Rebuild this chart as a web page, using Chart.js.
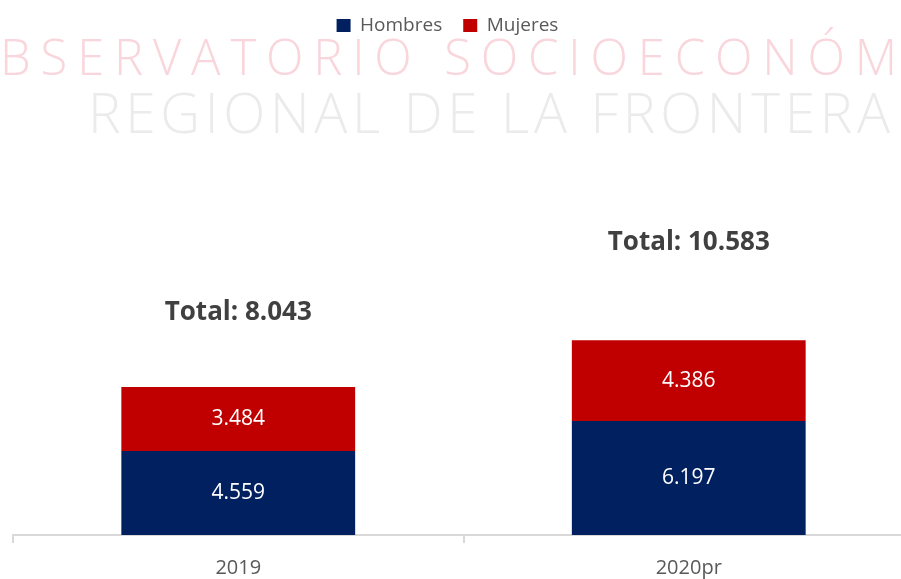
<!DOCTYPE html>
<html lang="es">
<head>
<meta charset="utf-8">
<title>Hombres y Mujeres</title>
<script src="https://cdn.jsdelivr.net/npm/chart.js@4.4.1/dist/chart.umd.min.js"></script>
<style>
  html, body { margin: 0; padding: 0; background: #fff; overflow: hidden; }
  #wrap { position: relative; width: 901px; height: 579px; overflow: hidden; }
  canvas { display: block; }
</style>
</head>
<body>
<div id="wrap"><canvas id="chart" width="930" height="594"></canvas></div>
<script>
const years = ['2019', '2020pr'];
const hombres = [4559, 6197];
const mujeres = [3484, 4386];
const totales = [8043, 10583];

const FONT = '"Open Sans", "Liberation Sans", sans-serif';

// 4559 -> 4.559
function fmt(n) {
  return String(n).replace(/\B(?=(\d{3})+(?!\d))/g, '.');
}

// texto espaciado: los caracteres [from, to) ocupan de x0 a x1
function drawSpaced(ctx, text, from, to, x0, x1, baseline, font, color) {
  ctx.font = font;
  ctx.fillStyle = color;
  ctx.textAlign = 'left';
  ctx.textBaseline = 'alphabetic';
  const chars = Array.from(text);
  const w = chars.map(c => ctx.measureText(c).width);
  let seg = 0;
  for (let i = from; i < to; i++) seg += w[i];
  const gap = (x1 - x0 - seg) / (to - from - 1);
  let x = x0;
  for (let i = 0; i < from; i++) x -= w[i] + gap;
  chars.forEach((c, i) => {
    ctx.fillText(c, x, baseline);
    x += w[i] + gap;
  });
}

// marca de agua de fondo
const watermark = {
  id: 'watermark',
  beforeDraw(chart) {
    const ctx = chart.ctx;
    ctx.save();
    drawSpaced(ctx, 'OBSERVATORIO SOCIOECONÓMICO', 1, 24, 0, 897, 75, '300 49px "Open Sans"', '#f9d5dc');
    drawSpaced(ctx, 'REGIONAL DE LA FRONTERA', 0, 23, 88, 890, 133, '300 55px "Open Sans"', '#ebebeb');
    ctx.restore();
  }
};

// la leyenda de Excel no está centrada sobre el área del gráfico
const legendShift = {
  id: 'legendShift',
  afterLayout(chart) {
    const lg = chart.legend;
    lg.left -= 16;
    lg.right -= 16;
    lg.top -= 5;
    lg.bottom -= 5;
  }
};

// etiquetas de valores y totales
const barLabels = {
  id: 'barLabels',
  afterDatasetsDraw(chart) {
    const ctx = chart.ctx;
    ctx.save();
    ctx.textAlign = 'center';
    ctx.textBaseline = 'middle';
    chart.data.datasets.forEach((ds, i) => {
      chart.getDatasetMeta(i).data.forEach((bar, j) => {
        const y = (bar.y + bar.base) / 2;
        if (ds.isTotal) {
          ctx.font = 'bold 26px ' + FONT;
          ctx.fillStyle = '#404040';
          ctx.fillText('Total: ' + fmt(ds.data[j]), bar.x, y);
        } else {
          ctx.font = '21px ' + FONT;
          ctx.fillStyle = '#ffffff';
          ctx.fillText(fmt(ds.data[j]), bar.x, y);
        }
      });
    });
    ctx.restore();
  }
};

new Chart(document.getElementById('chart'), {
  type: 'bar',
  data: {
    labels: years,
    datasets: [
      { label: 'Hombres', data: hombres, backgroundColor: '#002060' },
      { label: 'Mujeres', data: mujeres, backgroundColor: '#C00000' },
      // serie transparente apilada, solo lleva la etiqueta del total
      { label: 'Total', data: totales, backgroundColor: 'rgba(0,0,0,0)', isTotal: true }
    ]
  },
  options: {
    responsive: false,
    animation: false,
    datasets: {
      bar: { categoryPercentage: 0.519, barPercentage: 1, borderWidth: 0 }
    },
    layout: { padding: { left: 13, right: 16, top: 0, bottom: 1 } },
    plugins: {
      legend: {
        position: 'top',
        labels: {
          boxWidth: 14,
          boxHeight: 13,
          padding: 21,
          color: '#595959',
          font: { family: FONT, size: 19 },
          filter: item => item.text !== 'Total'
        }
      },
      tooltip: { enabled: false }
    },
    scales: {
      x: {
        stacked: true,
        grid: {
          display: true,
          drawOnChartArea: false,
          drawTicks: true,
          tickLength: 8,
          color: '#d9d9d9',
          lineWidth: 2
        },
        border: { display: true, color: '#d9d9d9', width: 2 },
        ticks: {
          color: '#595959',
          padding: 13,
          font: { family: FONT, size: 20 }
        }
      },
      y: {
        stacked: true,
        display: false,
        min: 0,
        max: 26350
      }
    }
  },
  plugins: [watermark, legendShift, barLabels]
});
</script>
</body>
</html>
